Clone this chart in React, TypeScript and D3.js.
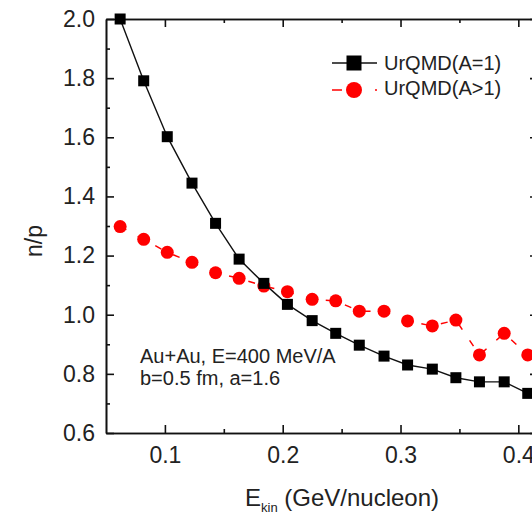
import { useEffect, useRef } from "react";
import * as d3 from "d3";

// beam energy bins (GeV/nucleon)
const ekin = [0.062, 0.082, 0.102, 0.123, 0.143, 0.163, 0.184, 0.204, 0.225, 0.245, 0.265, 0.286, 0.306, 0.327, 0.347, 0.367, 0.388, 0.408];
// n/p ratio, free nucleons
const npFree = [2.0, 1.791, 1.602, 1.445, 1.309, 1.188, 1.106, 1.035, 0.98, 0.937, 0.897, 0.86, 0.83, 0.816, 0.787, 0.773, 0.773, 0.734];
// n/p ratio, light clusters included
const npClust = [1.298, 1.255, 1.211, 1.177, 1.142, 1.123, 1.097, 1.078, 1.052, 1.047, 1.012, 1.012, 0.979, 0.962, 0.982, 0.864, 0.937, 0.864];

const xMajor = [0.1, 0.2, 0.3, 0.4];
const xMinor = [0.15, 0.25, 0.35];
const yMajor = [0.6, 0.8, 1.0, 1.2, 1.4, 1.6, 1.8, 2.0];
const yMinor = [0.7, 0.9, 1.1, 1.3, 1.5, 1.7, 1.9];

const seriesNames = ["UrQMD(A=1)", "UrQMD(A>1)"];
const infoLines = ["Au+Au, E=400 MeV/A", "b=0.5 fm, a=1.6"];

const FONT = "'Liberation Sans', Arial, sans-serif";

export default function App() {
  const ref = useRef<SVGSVGElement>(null);

  useEffect(() => {
    const W = 532, H = 515;
    const m = { left: 106, right: 538, top: 19, bottom: 433 };
    const svg = d3.select(ref.current).attr("width", W).attr("height", H);
    svg.selectAll("*").remove();

    const x = d3.scaleLinear().domain([0.05, 0.4167]).range([m.left, m.right]);
    const y = d3.scaleLinear().domain([0.6, 2.0]).range([m.bottom, m.top]);

    const styleAxis = (g: any) => {
      g.selectAll("path").attr("stroke", "#111").attr("stroke-width", 1.6);
      g.selectAll("line").attr("stroke", "#111").attr("stroke-width", 1.6);
      g.selectAll("text").attr("font-family", FONT).attr("font-size", 23).attr("fill", "#222");
    };

    // bottom
    svg.append("g").attr("transform", `translate(0,${m.bottom})`)
      .call(d3.axisBottom(x).tickValues(xMajor).tickSize(-8).tickSizeOuter(0).tickPadding(14).tickFormat(d3.format(".1f")))
      .call(styleAxis);
    svg.append("g").attr("transform", `translate(0,${m.bottom})`)
      .call(d3.axisBottom(x).tickValues(xMinor).tickSize(-4).tickSizeOuter(0).tickFormat(() => ""))
      .call(styleAxis);
    // top
    svg.append("g").attr("transform", `translate(0,${m.top})`)
      .call(d3.axisTop(x).tickValues(xMajor).tickSize(-8).tickSizeOuter(0).tickFormat(() => ""))
      .call(styleAxis);
    svg.append("g").attr("transform", `translate(0,${m.top})`)
      .call(d3.axisTop(x).tickValues(xMinor).tickSize(-4).tickSizeOuter(0).tickFormat(() => ""))
      .call(styleAxis);
    // left
    svg.append("g").attr("transform", `translate(${m.left},0)`)
      .call(d3.axisLeft(y).tickValues(yMajor).tickSize(-8).tickSizeOuter(0).tickPadding(11).tickFormat(d3.format(".1f")))
      .call(styleAxis);
    svg.append("g").attr("transform", `translate(${m.left},0)`)
      .call(d3.axisLeft(y).tickValues(yMinor).tickSize(-4).tickSizeOuter(0).tickFormat(() => ""))
      .call(styleAxis);
    // right
    svg.append("g").attr("transform", `translate(${m.right},0)`)
      .call(d3.axisRight(y).tickValues(yMajor).tickSize(-8).tickSizeOuter(0).tickFormat(() => ""))
      .call(styleAxis);
    svg.append("g").attr("transform", `translate(${m.right},0)`)
      .call(d3.axisRight(y).tickValues(yMinor).tickSize(-4).tickSizeOuter(0).tickFormat(() => ""))
      .call(styleAxis);

    const line = d3.line<number>().x((_, i) => x(ekin[i]));

    // clusters: red dashed with dots
    svg.append("path")
      .datum(npClust)
      .attr("d", line.y(d => y(d)))
      .attr("fill", "none").attr("stroke", "#ff0000").attr("stroke-width", 1.5)
      .attr("stroke-dasharray", "7,13");
    svg.selectAll("circle.clust").data(npClust).enter().append("circle")
      .attr("class", "clust")
      .attr("cx", (_, i) => x(ekin[i])).attr("cy", d => y(d))
      .attr("r", 6.5).attr("fill", "#ff0000");

    // free nucleons: black solid with squares
    svg.append("path")
      .datum(npFree)
      .attr("d", line.y(d => y(d)))
      .attr("fill", "none").attr("stroke", "#111").attr("stroke-width", 1.4);
    const sq = 11;
    svg.selectAll("rect.free").data(npFree).enter().append("rect")
      .attr("class", "free")
      .attr("x", (_, i) => x(ekin[i]) - sq / 2).attr("y", d => y(d) - sq / 2)
      .attr("width", sq).attr("height", sq).attr("fill", "#000");

    // legend
    const lg = svg.append("g").attr("transform", "translate(332,63)");
    lg.append("line").attr("x1", 0).attr("x2", 45).attr("y1", 0).attr("y2", 0)
      .attr("stroke", "#111").attr("stroke-width", 1.4);
    lg.append("rect").attr("x", 22 - 7.5).attr("y", -7.5).attr("width", 15).attr("height", 15).attr("fill", "#000");
    lg.append("line").attr("x1", 0).attr("x2", 45).attr("y1", 27).attr("y2", 27)
      .attr("stroke", "#ff0000").attr("stroke-width", 1.5).attr("stroke-dasharray", "10,33");
    lg.append("circle").attr("cx", 22).attr("cy", 27).attr("r", 8).attr("fill", "#ff0000");
    lg.selectAll("text").data(seriesNames).enter().append("text")
      .attr("x", 52).attr("y", (_, i) => 7 + i * 25)
      .attr("font-family", FONT).attr("font-size", 20).attr("fill", "#222")
      .text(d => d);

    // annotation
    svg.append("g").selectAll("text").data(infoLines).enter().append("text")
      .attr("x", 140).attr("y", (_, i) => 363 + i * 22)
      .attr("font-family", FONT).attr("font-size", 20).attr("fill", "#222")
      .text(d => d);

    // axis titles
    svg.append("text")
      .attr("transform", "translate(42,241) rotate(-90)")
      .attr("text-anchor", "middle")
      .attr("font-family", FONT).attr("font-size", 23).attr("fill", "#222")
      .text("n/p");

    const xt = svg.append("text")
      .attr("x", 245).attr("y", 506)
      .attr("font-family", FONT).attr("font-size", 24).attr("fill", "#222");
    xt.append("tspan").text("E");
    xt.append("tspan").attr("font-size", 13).attr("dy", 6).text("kin");
    xt.append("tspan").attr("dy", -6).text(" (GeV/nucleon)");
  }, []);

  return (
    <svg ref={ref} style={{ position: "absolute", left: 0, top: 0, background: "#fff" }} />
  );
}
